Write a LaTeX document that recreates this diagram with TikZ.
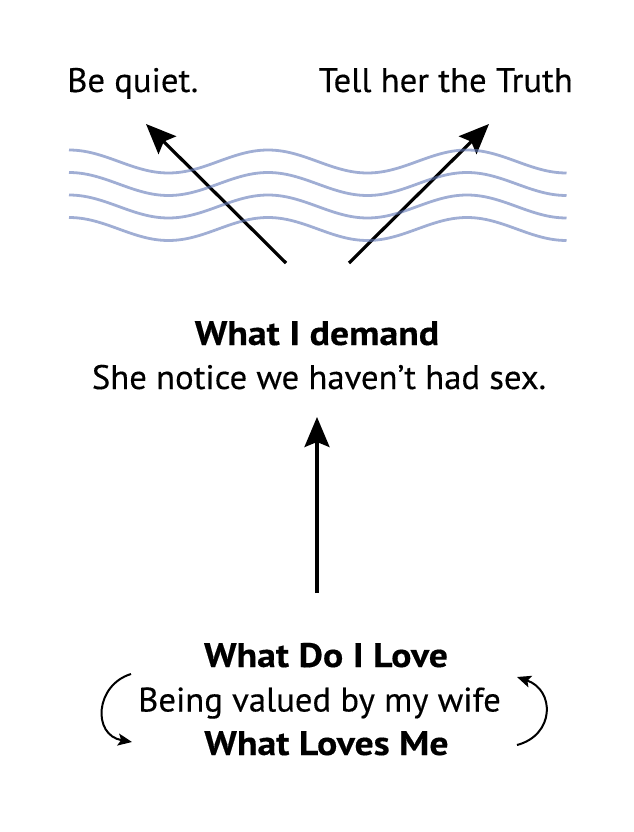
\documentclass[tikz,border=0pt]{standalone}
\usepackage{fontspec}
\setmainfont{PT Sans}[FakeStretch=1.02,FakeBold=0.35,BoldFeatures={FakeStretch=1.11}]
\usetikzlibrary{arrows.meta}
\definecolor{wavec}{RGB}{97,120,183}
\begin{document}
\begin{tikzpicture}[x=1bp,y=-1bp,
  txt/.style={inner sep=0pt,font=\fontsize{34bp}{40bp}\selectfont},
  btxt/.style={txt,font=\fontsize{34bp}{40bp}\selectfont\bfseries},
  bigarrow/.style={line width=3.2bp,-{Stealth[length=30bp,width=25bp,inset=5bp]}},
  looparrow/.style={line width=2bp,-{Stealth[length=14bp,width=12bp,inset=3bp]}},
  wave/.style={line width=2.8bp,wavec,opacity=0.6}]
\useasboundingbox (0,0) rectangle (634,832);
% texts
\node[txt,anchor=base west] (quiet) at (67,92) {Be quiet.};
\node[txt,anchor=base east] (truth) at (573,92) {Tell her the Truth};
\node[btxt,anchor=base] (demand) at (317,345) {What I demand};
\node[txt,anchor=base] (notice) at (319,389) {She notice we haven’t had sex.};
\node[btxt,anchor=base] (love) at (326,667) {What Do I Love};
\node[txt,anchor=base] (valued) at (319.5,711.5) {Being valued by my wife};
\node[btxt,anchor=base] (loves) at (326.5,755) {What Loves Me};
% arrow ends
\coordinate (lt) at (286,263);
\coordinate (lh) at (146,124);
\coordinate (rt) at (349,263);
\coordinate (rh) at (489,124);
\coordinate (ct) at (317,593);
\coordinate (ch) at (317,417);
\coordinate (la) at (131,674);
\coordinate (lb) at (132,742);
\coordinate (ra) at (517,745);
\coordinate (rb) at (517,677);
\draw[bigarrow] (lt) -- (lh);
\draw[bigarrow] (rt) -- (rh);
\draw[bigarrow] (ct) -- (ch);
\draw[looparrow] (la) .. controls (95,685) and (92,735) .. (lb);
\draw[looparrow] (ra) .. controls (555,735) and (555,690) .. (rb);
% waves
\foreach \yy in {150,172.5,195,217.5}{
  \draw[wave] (69,\yy) cos ++(49.75,11.5) sin ++(49.75,11.5)
    cos ++(49.75,-11.5) sin ++(49.75,-11.5)
    cos ++(49.75,11.5) sin ++(49.75,11.5)
    cos ++(49.75,-11.5) sin ++(49.75,-11.5)
    cos ++(49.75,11.5) sin ++(49.75,11.5);
}
\end{tikzpicture}
\end{document}
